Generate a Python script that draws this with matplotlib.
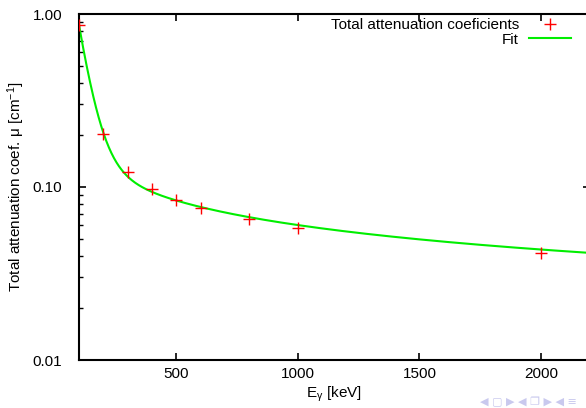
import numpy as np
import matplotlib
matplotlib.use("Agg")
import matplotlib.pyplot as plt
from matplotlib.ticker import FixedLocator, LogLocator, NullFormatter

plt.rcParams['font.family'] = ['Liberation Sans', 'DejaVu Sans']
plt.rcParams['mathtext.default'] = 'regular'

# Data
energy_kev = [100, 200, 300, 400, 500, 600, 800, 1000, 2000]
mu_total = [0.863, 0.202, 0.122, 0.097, 0.084, 0.0756, 0.0653, 0.058, 0.0415]

# Fit model: A*exp(-x/tau) + B*x**p
fit_A, fit_tau, fit_B, fit_p = 6.02, 46.0, 1.549, -0.47

x_ticks = [500, 1000, 1500, 2000]
y_ticks = [0.01, 0.1, 1.0]
y_ticklabels = ["0.01", "0.10", "1.00"]

FS = 11

fig = plt.figure(figsize=(5.86, 4.08), dpi=100)
W, H = 586, 408
left, right, top, bottom = 79, 589.6, 14, 360
ax = fig.add_axes([left / W, 1 - bottom / H, (right - left) / W, (bottom - top) / H])

xf = np.linspace(100, 2200, 600)
yf = fit_A * np.exp(-xf / fit_tau) + fit_B * xf ** fit_p

ax.plot(energy_kev, mu_total, linestyle='none', marker='+', color='#ff0000',
        markersize=8, markeredgewidth=1.0, label='Total attenuation coeficients', zorder=3)
ax.plot(xf, yf, color='#00ee00', linewidth=1.5, label='Fit', zorder=2)

ax.set_yscale('log')
ax.set_xlim(100, 2200)
ax.set_ylim(0.01, 1.0)
ax.xaxis.set_major_locator(FixedLocator(x_ticks))
ax.set_xticklabels([str(t) for t in x_ticks])
ax.yaxis.set_major_locator(FixedLocator(y_ticks))
ax.set_yticklabels(y_ticklabels)
ax.yaxis.set_minor_locator(LogLocator(base=10, subs=np.arange(2, 10)))
ax.yaxis.set_minor_formatter(NullFormatter())

ax.tick_params(axis='both', which='major', direction='in', length=5, width=1.2,
               top=True, right=True, labelsize=FS, colors='black')
ax.tick_params(axis='y', which='major', pad=12)
ax.tick_params(axis='x', which='major', pad=5)
ax.tick_params(axis='y', which='minor', direction='in', length=3, width=1.0, right=True)
ax.tick_params(axis='x', which='minor', bottom=False, top=False)
for s in ax.spines.values():
    s.set_linewidth(1.5)

ax.set_xlabel('E$_{γ}$ [keV]', fontsize=FS, labelpad=3)
ax.set_ylabel('Total attenuation coef. μ [cm$^{-1}$]', fontsize=FS, labelpad=4)

leg = ax.legend(loc='upper right', bbox_to_anchor=(571 / W, 1 - 18 / H),
                bbox_transform=fig.transFigure, frameon=False, markerfirst=False,
                fontsize=FS, handlelength=2.75, handletextpad=0.65, labelspacing=0.05,
                borderpad=0, borderaxespad=0)
for t in leg.get_texts():
    t.set_ha('right')
leg._legend_box.align = 'right'

fig.text(0.985, 0.002, '◀ ▢ ▶ ◀ ❐ ▶ ◀ ≡', color='#c9c9ee', fontsize=8,
         ha='right', va='bottom', family=['DejaVu Sans'])

fig.savefig('out.png', dpi=100)
